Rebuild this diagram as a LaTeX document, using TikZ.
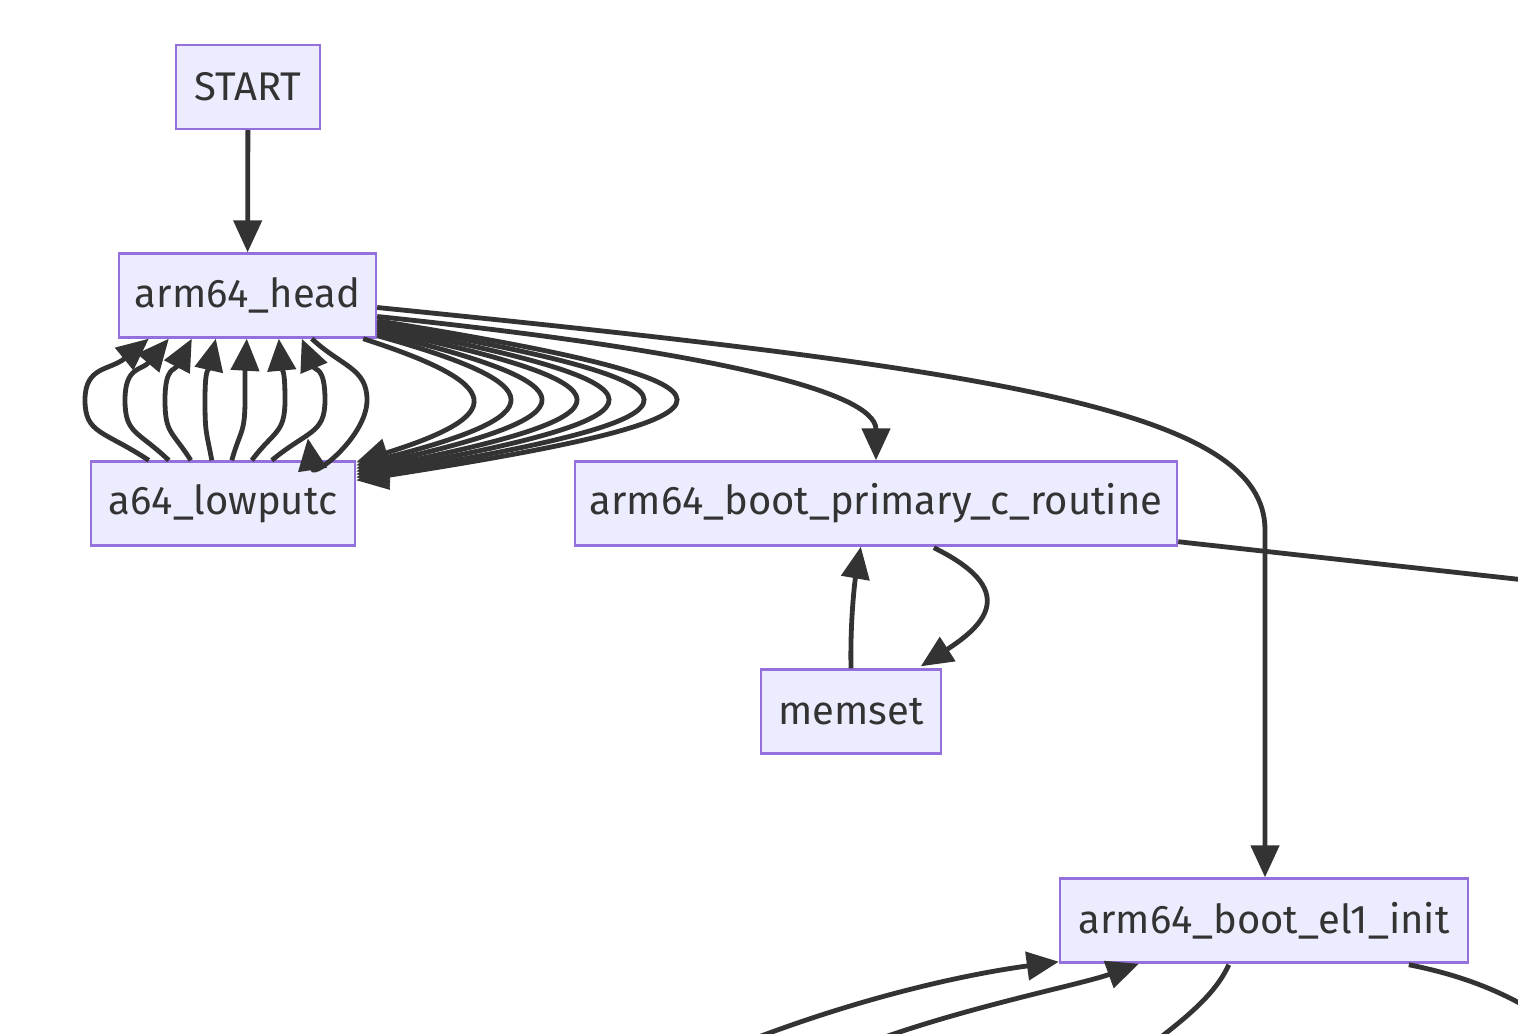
\documentclass[tikz,border=0pt]{standalone}
\usepackage{fontspec}
\setmainfont{Fira Sans}
\usetikzlibrary{arrows.meta, calc, positioning}
\definecolor{boxfill}{HTML}{ECECFF}
\definecolor{boxline}{HTML}{9370DB}
\definecolor{edge}{HTML}{333333}

\begin{document}
\begin{tikzpicture}[x=0.5pt, y=-0.5pt, >={Triangle[length=16pt,width=14pt]},
    box/.style={draw=boxline, fill=boxfill, line width=1.2pt, minimum height=42pt,
        inner sep=0pt, text=edge, font=\fontsize{20}{24}\selectfont},
    flow/.style={->, draw=edge, line width=2.4pt},
    plain/.style={draw=edge, line width=2.4pt}]
\clip (0,0) rectangle (1518,1033);
\fill[white] (0,0) rectangle (1518,1033);
% boxes
\node[box, minimum width=72pt] (start) at (248,87) {START};
\node[box, minimum width=128.5pt] (head) at (247.5,295.5) {arm64\_head};
\node[box, minimum width=132pt] (lowputc) at (223,503.5) {a64\_lowputc};
\node[box, minimum width=301pt] (primary) at (876,503.5) {arm64\_boot\_primary\_c\_routine};
\node[box, minimum width=90pt] (memset) at (851,711.5) {memset};
\node[box, minimum width=204pt] (elinit) at (1264,920.5) {arm64\_boot\_el1\_init};
% ends that leave the picture
\coordinate (offright) at (1570,585);
\coordinate (inA) at (730,1048);
\coordinate (inB) at (850,1050);
\coordinate (outA) at (1130,1060);
\coordinate (outB) at (1540,1015);

\draw[flow](start)--(head);
% lowputc back to head
\foreach \s/\b/\t in {150/85/150, 170/125/170, 192/165/193, 213/205/217, 233/245/248, 253/285/280, 273/325/303}
{
    \draw[flow]($(lowputc.north west)+(\s-91,0)$) .. controls +({0.7*(\b-\s)},-30) and +(0,34) .. (\b,400)
        .. controls +(0,-34) and +({0.6*(\b-\t)},32) .. ($(head.south west)+(\t-119,0)$);
}
\draw[flow]($(head.south west)+(194,0)$) .. controls +(30,28) and +(0,-32) .. (367,400)
    .. controls +(0,36) and +(6,40) .. ($(lowputc.north west)+(218,-22)$);
% head down to lowputc
\foreach \dx/\dy/\b/\ey in {-14/0/470/2, 0/-3/507/5, 0/-6/538/8, 0/-9/573/11, 0/-12/605/14, 0/-15/640/17, 0/-18/673/20}
{
    \pgfmathsetmacro\c{(8*\b-376-\dx-355)/6}
    \draw[flow]($(head.south east)+(\dx,\dy)$) .. controls (\c,385) and (\c,415) .. ($(lowputc.north east)+(0,\ey)$);
}
\draw[flow]($(head.east)+(0,21)$) .. controls (700,350) and (876,390) .. (primary.north);
\draw[flow]($(head.east)+(0,12)$) .. controls (1000,370) and (1265,410) .. (1265,530) -- ($(elinit.north)+(1,0)$);
\draw[plain]($(primary.south east)+(0,-5)$)--(offright);
\draw[flow](memset.north) .. controls (850,620) and (855,580) .. ($(primary.south west)+(287,0)$);
\draw[flow]($(primary.south west)+(360,1)$) .. controls (1020,590) and (985,625) .. ($(memset.north west)+(161,-2)$);
% bottom edges
\draw[flow](inA) .. controls (850,1000) and (960,975) .. ($(elinit.south west)+(0,-2)$);
\draw[flow](inB) .. controls (950,1010) and (1080,985) .. ($(elinit.south west)+(80,0)$);
\draw[plain]($(elinit.south west)+(170,1)$) .. controls (1215,995) and (1185,1020) .. (outA);
\draw[plain]($(elinit.south west)+(350,1)$) .. controls (1460,975) and (1500,990) .. (outB);
\end{tikzpicture}
\end{document}
